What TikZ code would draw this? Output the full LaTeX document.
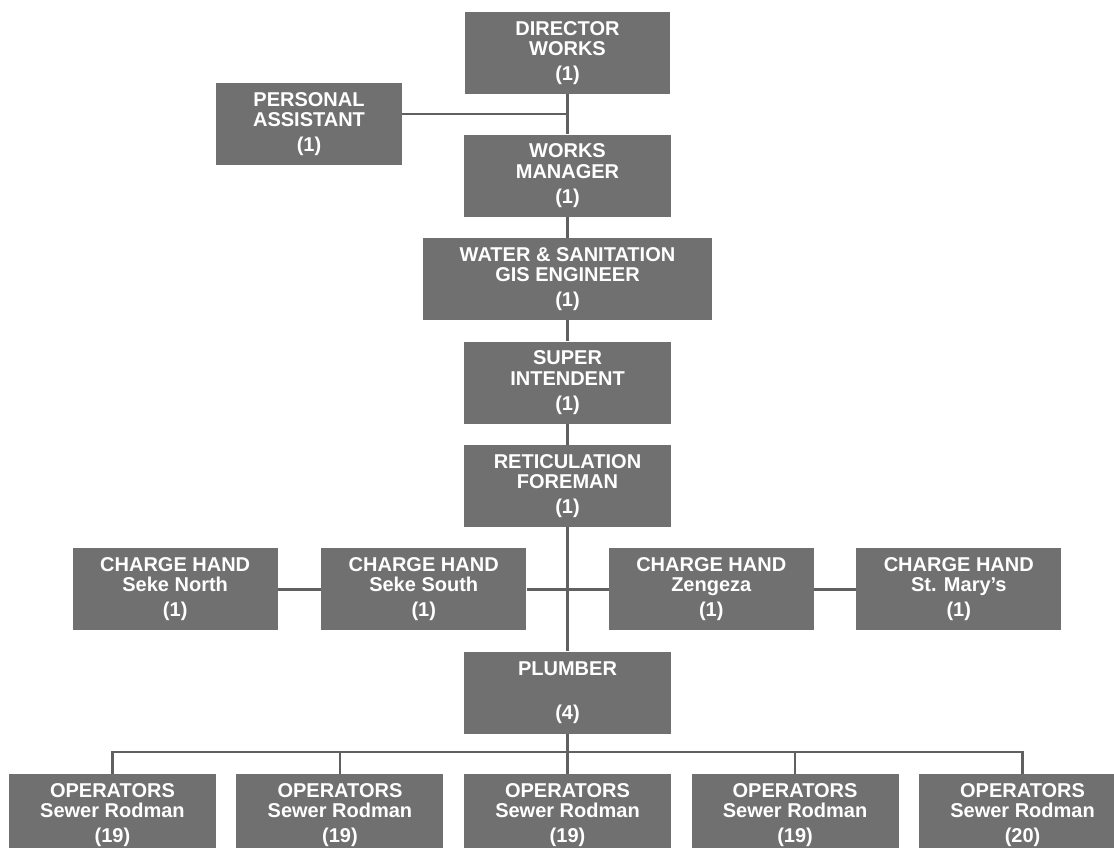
\documentclass[tikz,border=0pt]{standalone}
\usepackage{fontspec}
\setmainfont{Liberation Sans}
\usepackage{tikz}
\usepackage{xcolor}
\usetikzlibrary{positioning}

\definecolor{boxgray}{RGB}{112,112,112}
\definecolor{linegray}{RGB}{96,96,96}

\begin{document}
\begin{tikzpicture}[x=0.75pt, y=-0.75pt, node distance=15.75pt and 30.75pt,
    post/.style={fill=boxgray, text=white, minimum width=155.25pt, minimum height=61.5pt, align=center, inner sep=0pt, font=\fontsize{15}{15.25}\selectfont\bfseries},
    link/.style={draw=linegray, line width=2pt}]
    \useasboundingbox (0,0) rectangle (1114,848);

    \node[post, minimum width=153.75pt] (director) at (567.5,53) {DIRECTOR\\WORKS\\[3.5pt](1)};
    \node[post, below=30pt of director] (manager) {WORKS\\MANAGER\\[3.5pt](1)};
    \node[post, minimum width=139.5pt] (pa) at (309,124) {PERSONAL\\ASSISTANT\\[3.5pt](1)};
    \node[post, below=of manager, minimum width=216.75pt] (gis) {WATER \& SANITATION\\GIS ENGINEER\\[3.5pt](1)};
    \node[post, below=of gis] (super) {SUPER\\INTENDENT\\[3.5pt](1)};
    \node[post, below=of super] (foreman) {RETICULATION\\FOREMAN\\[3.5pt](1)};

    % charge hands
    \coordinate[below=46.5pt of foreman] (hub);
    \node[post, minimum width=153.75pt, left=of hub] (chsouth) {CHARGE HAND\\Seke South\\[3.5pt](1)};
    \node[post, minimum width=153.75pt, left=32.25pt of chsouth] (chnorth) {CHARGE HAND\\Seke North\\[3.5pt](1)};
    \node[post, minimum width=153.75pt, right=of hub] (chzengeza) {CHARGE HAND\\Zengeza\\[3.5pt](1)};
    \node[post, minimum width=153.75pt, right=31.5pt of chzengeza] (chmary) {CHARGE HAND\\St. Mary's\\[3.5pt](1)};

    \node[post, below=46.5pt of hub] (plumber) {PLUMBER\\[17.5pt](4)};

    % operators
    \node[post, below=30pt of plumber] (op3) {OPERATORS\\Sewer Rodman\\[3.5pt](19)};
    \node[post, left=15pt of op3] (op2) {OPERATORS\\Sewer Rodman\\[3.5pt](19)};
    \node[post, left=15pt of op2] (op1) {OPERATORS\\Sewer Rodman\\[3.5pt](19)};
    \node[post, right=15pt of op3] (op4) {OPERATORS\\Sewer Rodman\\[3.5pt](19)};
    \node[post, right=15pt of op4] (op5) {OPERATORS\\Sewer Rodman\\[3.5pt](20)};
    \coordinate[below=13.5pt of plumber] (bus);

    \draw[link] (director) -- (manager);
    \draw[link] ([yshift=7.5pt]pa.east) -- ([yshift=7.5pt]pa.east -| director.south);
    \draw[link] (manager) -- (gis);
    \draw[link] (gis) -- (super);
    \draw[link] (super) -- (foreman);
    \draw[link] (foreman) -- (plumber);
    \draw[link] (chnorth) -- (chsouth);
    \draw[link] (chsouth) -- (chzengeza);
    \draw[link] (chzengeza) -- (chmary);
    \draw[link] (plumber) -- (bus);
    \draw[link] (op1.north) |- (bus) -| (op5.north);
    \foreach \op in {op2,op3,op4}
        \draw[link] (\op.north) -- (\op.north |- bus);
\end{tikzpicture}
\end{document}
